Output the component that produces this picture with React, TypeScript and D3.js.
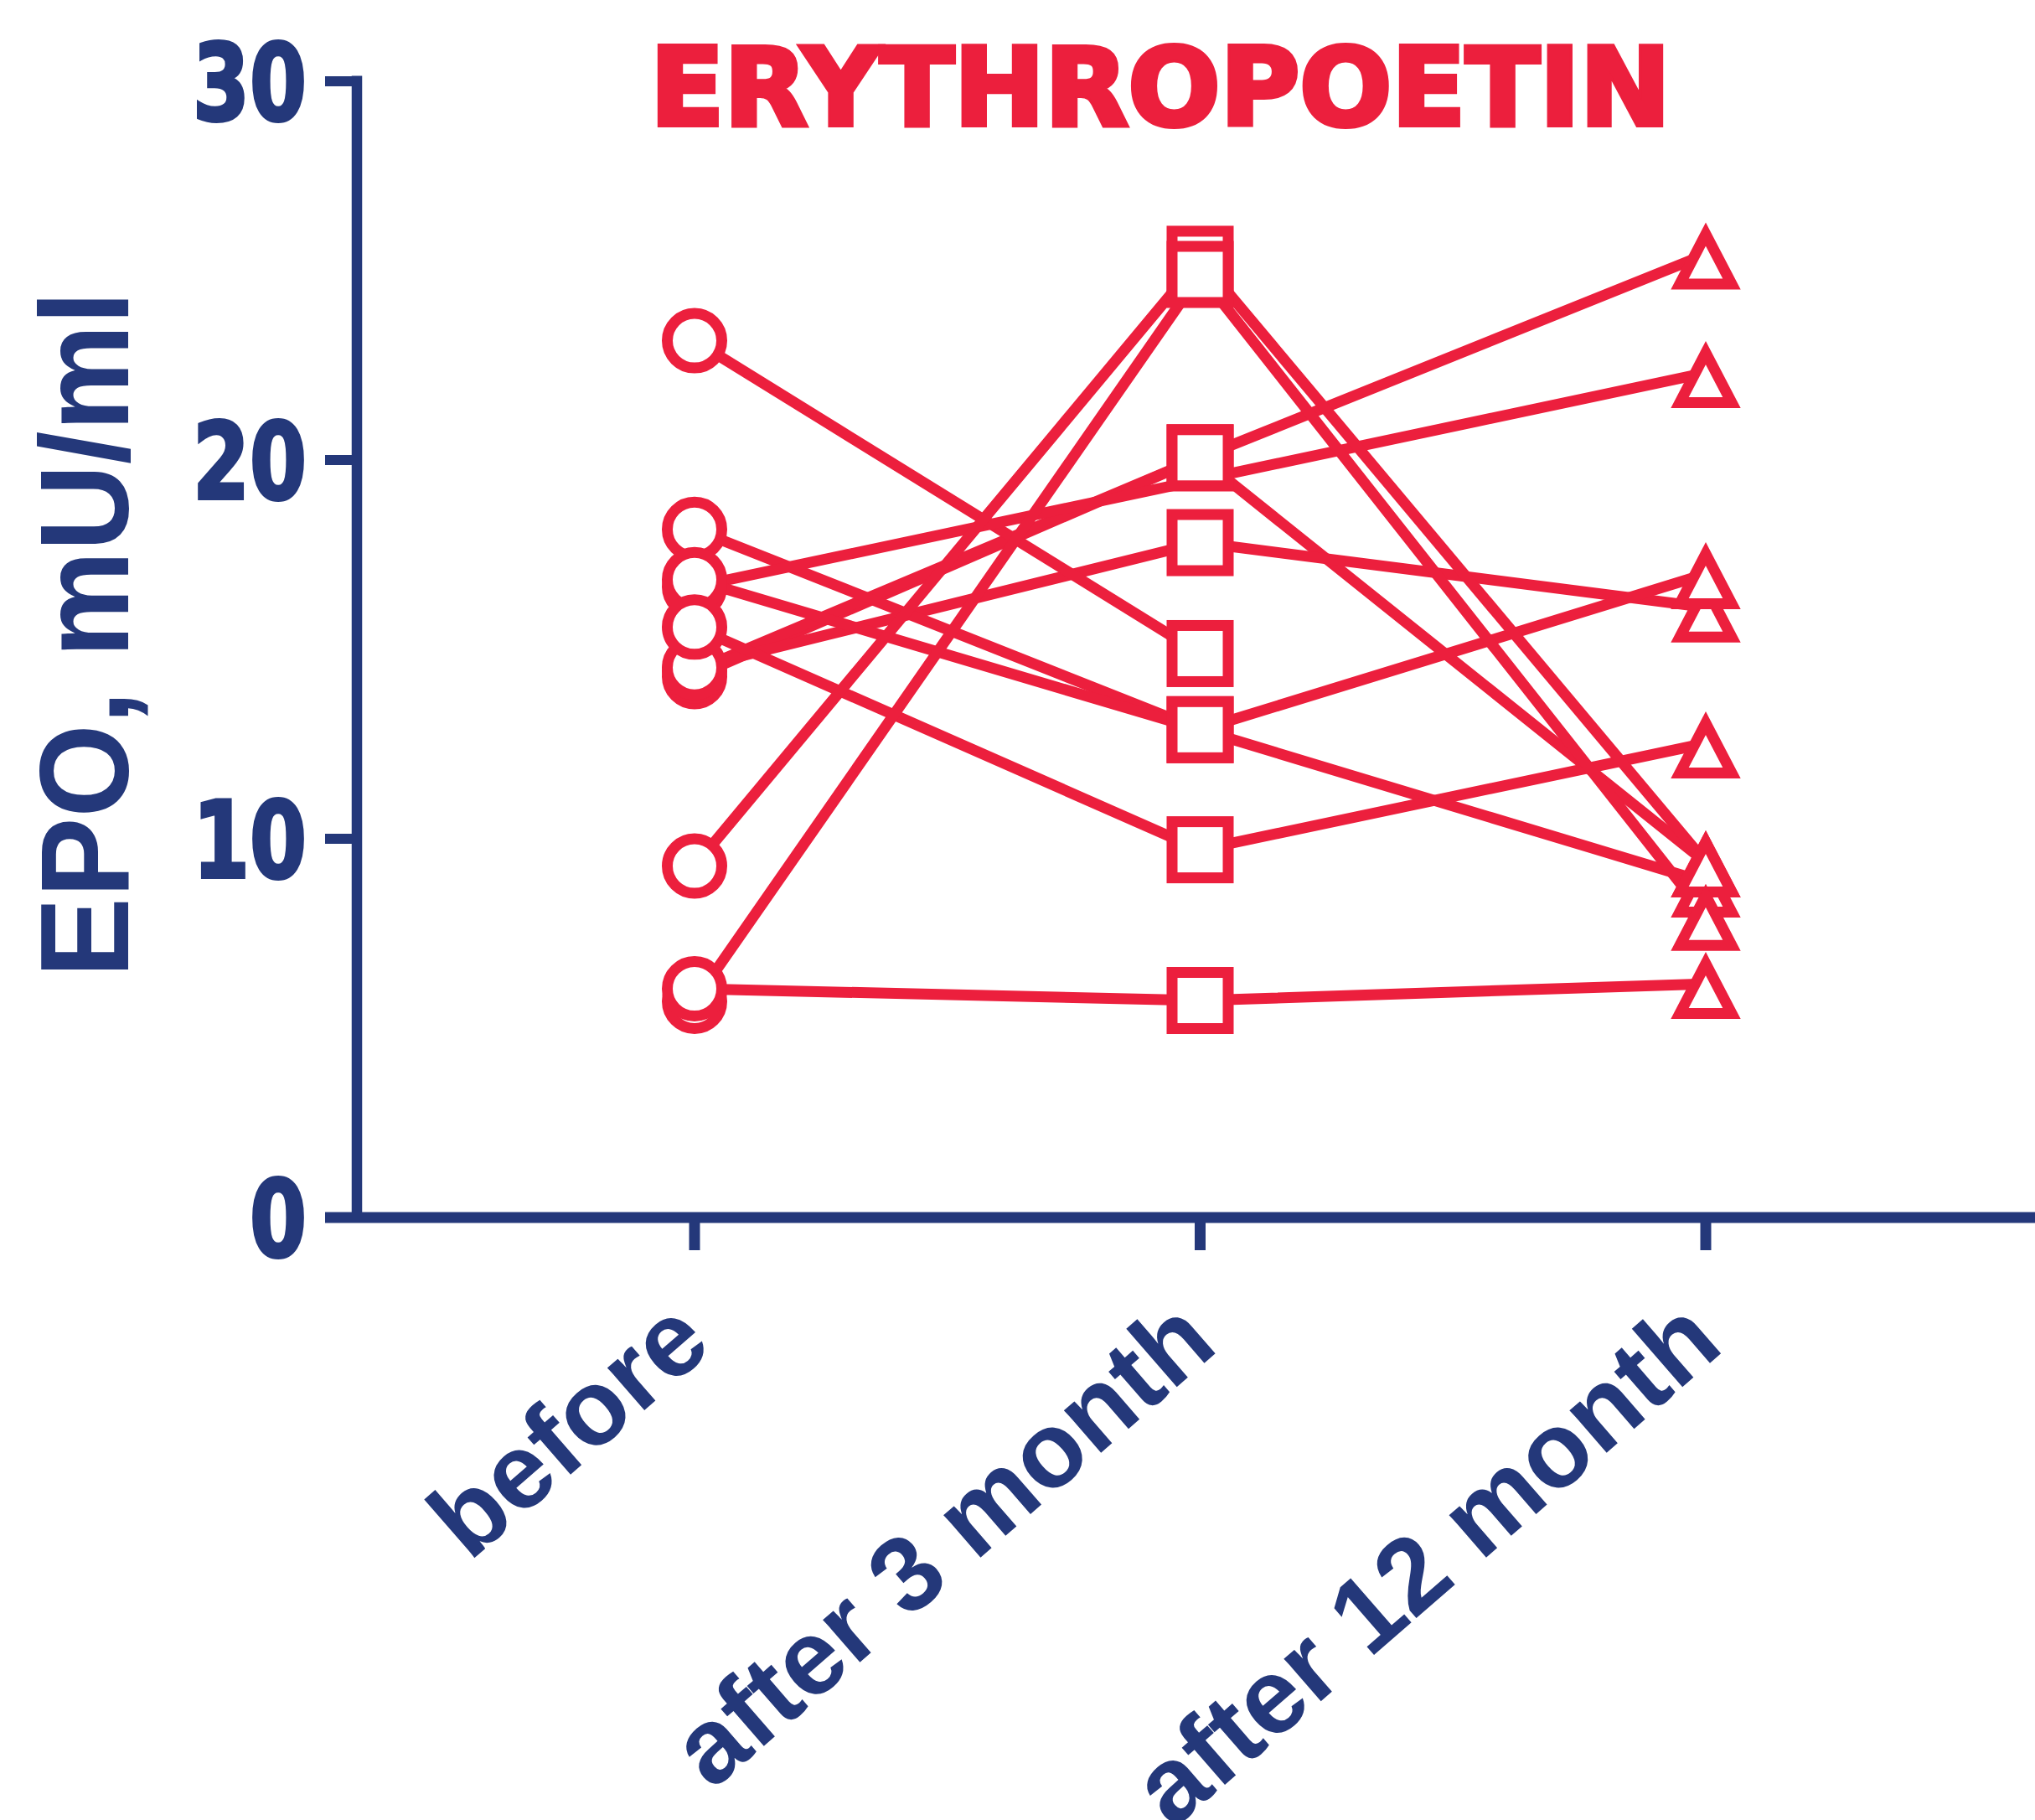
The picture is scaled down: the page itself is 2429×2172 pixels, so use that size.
import React from "react";
import * as d3 from "d3";

const categories = ["before", "after 3 month", "after 12 month"];
// one entry per subject, in drawing order
const beforeValues = [14.28, 14.43, 14.52, 23.15, 18.17, 16.65, 16.84, 15.59, 9.28, 5.71, 6.04];
const month3Values: (number | null)[] = [20.06, 20.06, 17.82, 14.89, 12.88, null, 12.88, 9.71, 25.3, 24.9, 5.73];
const month12Values: (number | null)[] = [9.38, 25.43, 16.11, null, 8.85, 22.3, 16.99, 12.52, 9.38, 7.97, 6.17];
const yTicks = [0, 10, 20, 30];
const title = "ERYTHROPOETIN";
const yLabel = "EPO, mU/ml";

const W = 2429;
const H = 2172;
const RED = "#EC1F3D";
const NAVY = "#24387A";
const FONT = "'Liberation Sans', Arial, Helvetica, sans-serif";
const HEAVY = "'DejaVu Sans', 'Liberation Sans', Arial, sans-serif";

function HeavyText(props: any) {
  const { children, color, outline, ...rest } = props;
  return (
    <g>
      <text {...rest} fill="none" stroke={color} strokeWidth={outline} strokeLinejoin="miter">
        {children}
      </text>
      <text {...rest} fill={color}>
        {children}
      </text>
    </g>
  );
}

export default function App() {
  const x = d3.scalePoint<string>().domain(categories).range([829, 2036]).padding(0);
  const y = d3.scaleLinear().domain([0, 30]).range([1453, 97]);

  const subjects = beforeValues.map((b, i) => [b, month3Values[i], month12Values[i]]);

  const line = d3
    .line<[string, number | null]>()
    .x((d) => x(d[0]) as number)
    .y((d) => y(d[1] as number));

  const markerShape = (ci: number, cx: number, cy: number, key: string) => {
    if (ci === 0) {
      return <circle key={key} cx={cx} cy={cy} r={32.5} fill="#fff" stroke={RED} strokeWidth={13} />;
    }
    if (ci === 1) {
      const s = 67;
      return (
        <rect key={key} x={cx - s / 2} y={cy - s / 2} width={s} height={s} fill="#fff" stroke={RED} strokeWidth={13} />
      );
    }
    const pts = `${cx},${cy - 24} ${cx - 31},${cy + 35.5} ${cx + 31},${cy + 35.5}`;
    return (
      <polygon key={key} points={pts} fill="#fff" stroke={RED} strokeWidth={13} strokeLinejoin="miter" strokeMiterlimit={10} />
    );
  };

  const x0 = 388;
  const yAxisX = 426;

  return (
    <svg
      width={W}
      height={H}
      viewBox={`0 0 ${W} ${H}`}
      style={{ position: "absolute", left: 0, top: 0, background: "#fff" }}
    >
      <rect x={0} y={0} width={W} height={H} fill="#fff" />
      {/* title */}
      <HeavyText
        x={776}
        y={149}
        fontFamily={HEAVY}
        fontWeight="bold"
        fontSize={128}
        color={RED}
        outline={6}
        textLength={1218}
        lengthAdjust="spacingAndGlyphs"
      >
        {title}
      </HeavyText>

      {/* y axis label */}
      <text
        transform={`translate(153, 757) rotate(-90)`}
        textAnchor="middle"
        fontFamily={FONT}
        fontWeight="bold"
        fontSize={150}
        fill={NAVY}
        textLength={819}
        lengthAdjust="spacingAndGlyphs"
      >
        {yLabel}
      </text>

      {/* axes */}
      <line x1={yAxisX} x2={yAxisX} y1={y(30) - 6.5} y2={y(0)} stroke={NAVY} strokeWidth={12.5} />
      <line x1={x0} x2={W} y1={y(0)} y2={y(0)} stroke={NAVY} strokeWidth={13} />
      {yTicks.map((t) => {
        const label = String(t);
        return (
          <g key={t}>
            <line x1={x0} x2={yAxisX} y1={y(t)} y2={y(t)} stroke={NAVY} strokeWidth={12} />
            <HeavyText
              x={366}
              y={y(t)}
              dy="0.36em"
              textAnchor="end"
              fontFamily={HEAVY}
              fontWeight="bold"
              fontSize={127}
              color={NAVY}
              outline={4}
              textLength={label.length * 68}
              lengthAdjust="spacingAndGlyphs"
            >
              {label}
            </HeavyText>
          </g>
        );
      })}
      {categories.map((c) => (
        <g key={c}>
          <line x1={x(c)} x2={x(c)} y1={y(0)} y2={1492} stroke={NAVY} strokeWidth={13} />
          <text
            transform={`translate(${(x(c) as number) + 24}, 1610) rotate(-41)`}
            textAnchor="end"
            fontFamily={FONT}
            fontWeight="bold"
            fontSize={127}
            fill={NAVY}
          >
            {c}
          </text>
        </g>
      ))}

      {/* subject lines */}
      <g>
        {subjects.map((vals, i) => {
          const pts = vals
            .map((v, ci) => [categories[ci], v] as [string, number | null])
            .filter((d) => d[1] !== null);
          return (
            <path key={i} d={line(pts) || ""} fill="none" stroke={RED} strokeWidth={13} strokeLinejoin="round" />
          );
        })}
      </g>
      {/* markers */}
      <g>
        {subjects.map((vals, i) =>
          vals.map((v, ci) =>
            v === null ? null : markerShape(ci, x(categories[ci]) as number, y(v), `${i}-${ci}`)
          )
        )}
      </g>
    </svg>
  );
}
